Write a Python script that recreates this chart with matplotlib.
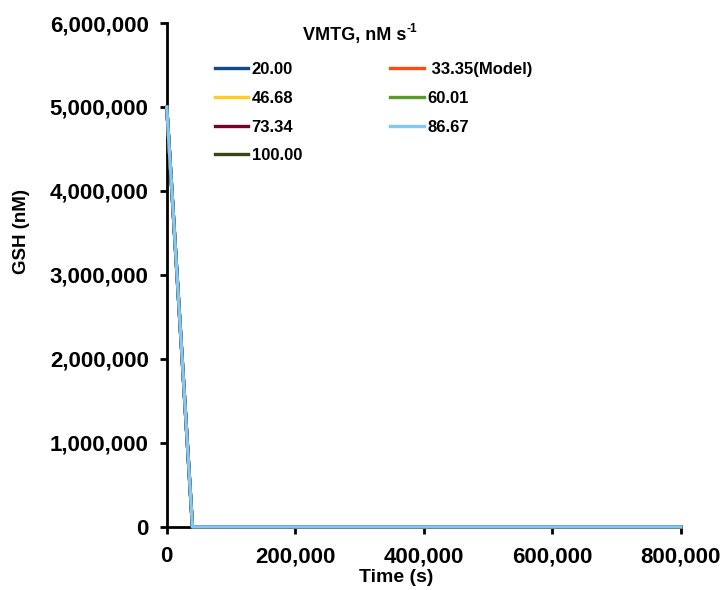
import matplotlib
matplotlib.use("Agg")
import matplotlib.pyplot as plt
from matplotlib.ticker import FuncFormatter

plt.rcParams['font.family'] = ['Liberation Sans', 'DejaVu Sans']
plt.rcParams['font.weight'] = 'bold'

# VMTG values (nM s^-1) and GSH time courses
labels = ["20.00", " 33.35(Model)", "46.68", "60.01", "73.34", "86.67", "100.00"]
colors = ["#0d4a8c", "#ff4a14", "#ffcb25", "#5a9a2a", "#7a0025", "#80c8f7", "#374614"]
time_s = [0, 40000, 800000]
gsh = {
    "20.00": [5.0e6, 0, 0],
    " 33.35(Model)": [5.0e6, 0, 0],
    "46.68": [5.0e6, 0, 0],
    "60.01": [5.0e6, 0, 0],
    "73.34": [5.0e6, 0, 0],
    "86.67": [5.0e6, 0, 0],
    "100.00": [5.0e6, 0, 0],
}

fig = plt.figure(figsize=(7.25, 5.9), dpi=100)
ax = fig.add_axes([0.230, 0.107, 0.709, 0.854])

handles = {}
for lab, col in zip(labels, colors):
    z = 5 if lab == "86.67" else 3
    h, = ax.plot(time_s, gsh[lab], color=col, lw=2.4, label=lab, zorder=z, clip_on=False)
    handles[lab] = h

ax.set_xlim(0, 800000)
ax.set_ylim(0, 6000000)
ax.set_xticks([0, 200000, 400000, 600000, 800000])
ax.set_yticks(range(0, 6000001, 1000000))
fmt = FuncFormatter(lambda v, p: f"{int(v):,}")
ax.xaxis.set_major_formatter(fmt)
ax.yaxis.set_major_formatter(fmt)

for s in ["top", "right"]:
    ax.spines[s].set_visible(False)
for s in ["left", "bottom"]:
    ax.spines[s].set_linewidth(2)
ax.tick_params(axis='both', direction='out', length=5, width=2, labelsize=16)
ax.tick_params(axis='y', pad=8)
ax.tick_params(axis='x', pad=9)

ax.set_xlabel("Time (s)", fontsize=14, fontweight='bold', va='center')
ax.xaxis.set_label_coords(0.447, -0.101)
ax.set_ylabel("GSH (nM)", fontsize=13.5, fontweight='bold', va='center')
ax.yaxis.set_label_coords(-0.282, 0.587)

# legend laid out row by row across two columns
order = ["20.00", "46.68", "73.34", "100.00", " 33.35(Model)", "60.01", "86.67"]
leg = ax.legend([handles[k] for k in order], order, ncol=2, loc='upper left',
                bbox_to_anchor=(0.094, 0.922), frameon=False, fontsize=12,
                handlelength=2.0, handletextpad=0.2, columnspacing=5.3,
                labelspacing=0.82, borderpad=0, borderaxespad=0)
for t in leg.get_texts():
    t.set_fontweight('bold')

title = fig.text(0.418, 0.940, "VMTG, nM s", fontsize=13, fontweight='bold',
                 ha='left', va='center')
ax.annotate("-1", xy=(1.0, 0.85), xycoords=title, fontsize=8.5, fontweight='bold',
            ha='left', va='center')

fig.savefig("out.png", dpi=100)
